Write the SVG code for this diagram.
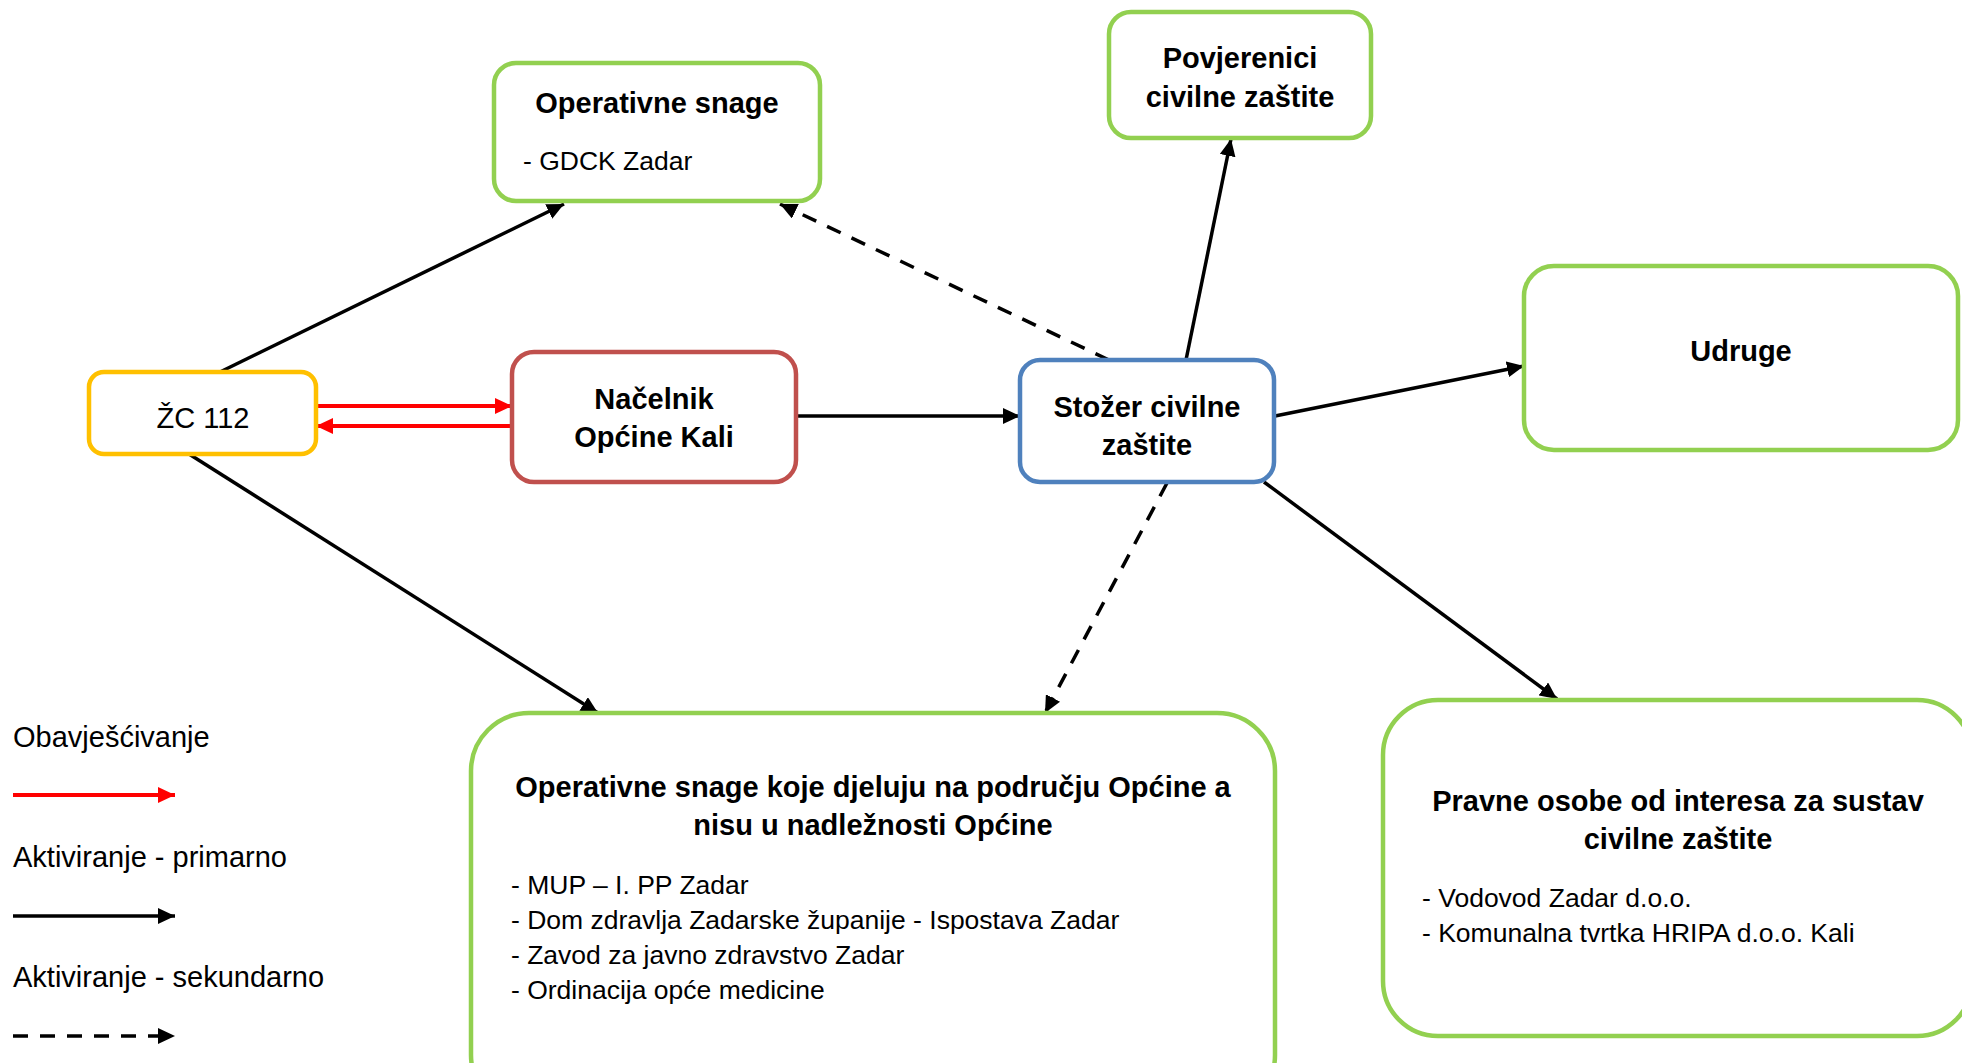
<svg xmlns="http://www.w3.org/2000/svg" width="1962" height="1063" viewBox="0 0 1962 1063">
<style>
text{font-family:"Liberation Sans",Arial,sans-serif;fill:#000}
.b{font-weight:bold;font-size:29px}
.r{font-size:26.5px}
.l{font-size:29px}
.box{fill:#fff;stroke-width:4.5}
.g{stroke:#92D050}
.c{stroke:#000;stroke-width:3.5;fill:none}
.d{stroke-dasharray:15 12}
.red{stroke:#FF0000;stroke-width:4;fill:none}
</style>
<defs>
<marker id="ab" markerUnits="userSpaceOnUse" markerWidth="18" markerHeight="16" refX="17" refY="8" orient="auto"><path d="M0,0 L17,8 L0,16 z" fill="#000"/></marker>
<marker id="ar" markerUnits="userSpaceOnUse" markerWidth="18" markerHeight="16" refX="17" refY="8" orient="auto"><path d="M0,0 L17,8 L0,16 z" fill="#FF0000"/></marker>
</defs>
<g id="connectors">
<line class="c" x1="220" y1="372" x2="564" y2="204" marker-end="url(#ab)"/>
<line class="c" x1="189" y1="454" x2="598" y2="713" marker-end="url(#ab)"/>
<line class="red" x1="316" y1="406" x2="512" y2="406" marker-end="url(#ar)"/>
<line class="red" x1="512" y1="426" x2="316" y2="426" marker-end="url(#ar)"/>
<line class="c" x1="796" y1="416" x2="1020" y2="416" marker-end="url(#ab)"/>
<line class="c" x1="1186" y1="360" x2="1231" y2="139" marker-end="url(#ab)"/>
<line class="c d" x1="1109" y1="360" x2="780" y2="204" marker-end="url(#ab)"/>
<line class="c" x1="1275" y1="416" x2="1524" y2="366" marker-end="url(#ab)"/>
<line class="c d" x1="1167" y1="483" x2="1045" y2="713" marker-end="url(#ab)"/>
<line class="c" x1="1264" y1="482" x2="1557" y2="699" marker-end="url(#ab)"/>
</g>
<g id="zc112">
<rect class="box" x="89" y="372" width="227" height="82" rx="15" stroke="#FFC000"/>
<text class="l" x="203" y="428" text-anchor="middle">ŽC 112</text>
</g>
<g id="nacelnik">
<rect class="box" x="512" y="352" width="284" height="130" rx="22" stroke="#C0504D"/>
<text class="b" x="654" y="409" text-anchor="middle">Načelnik</text>
<text class="b" x="654" y="447" text-anchor="middle">Općine Kali</text>
</g>
<g id="operativne">
<rect class="box g" x="494" y="63" width="326" height="138" rx="22"/>
<text class="b" x="657" y="113" text-anchor="middle">Operativne snage</text>
<text class="r" x="523" y="170">- GDCK Zadar</text>
</g>
<g id="povjerenici">
<rect class="box g" x="1109" y="12" width="262" height="126" rx="22"/>
<text class="b" x="1240" y="68" text-anchor="middle">Povjerenici</text>
<text class="b" x="1240" y="107" text-anchor="middle">civilne zaštite</text>
</g>
<g id="stozer">
<rect class="box" x="1020" y="360" width="254" height="122" rx="20" stroke="#4F81BD"/>
<text class="b" x="1147" y="417" text-anchor="middle">Stožer civilne</text>
<text class="b" x="1147" y="455" text-anchor="middle">zaštite</text>
</g>
<g id="udruge">
<rect class="box g" x="1524" y="266" width="434" height="184" rx="30"/>
<text class="b" x="1741" y="361" text-anchor="middle">Udruge</text>
</g>
<g id="operativne-ostale">
<rect class="box g" x="471" y="713" width="804" height="400" rx="58"/>
<text class="b" x="873" y="797" text-anchor="middle">Operativne snage koje djeluju na području Općine a</text>
<text class="b" x="873" y="835" text-anchor="middle">nisu u nadležnosti Općine</text>
<text class="r" x="511" y="894">- MUP – I. PP Zadar</text>
<text class="r" x="511" y="929">- Dom zdravlja Zadarske županije - Ispostava Zadar</text>
<text class="r" x="511" y="964">- Zavod za javno zdravstvo Zadar</text>
<text class="r" x="511" y="999">- Ordinacija opće medicine</text>
</g>
<g id="pravne">
<rect class="box g" x="1383" y="700" width="589" height="336" rx="55"/>
<text class="b" x="1678" y="811" text-anchor="middle">Pravne osobe od interesa za sustav</text>
<text class="b" x="1678" y="849" text-anchor="middle">civilne zaštite</text>
<text class="r" x="1422" y="907">- Vodovod Zadar d.o.o.</text>
<text class="r" x="1422" y="942">- Komunalna tvrtka HRIPA d.o.o. Kali</text>
</g>
<g id="legend">
<text class="l" x="13" y="747">Obavješćivanje</text>
<line class="red" x1="13" y1="795" x2="175" y2="795" marker-end="url(#ar)"/>
<text class="l" x="13" y="867">Aktiviranje - primarno</text>
<line class="c" x1="13" y1="916" x2="175" y2="916" marker-end="url(#ab)"/>
<text class="l" x="13" y="987">Aktiviranje - sekundarno</text>
<line class="c d" x1="13" y1="1036" x2="175" y2="1036" marker-end="url(#ab)"/>
</g>
</svg>
